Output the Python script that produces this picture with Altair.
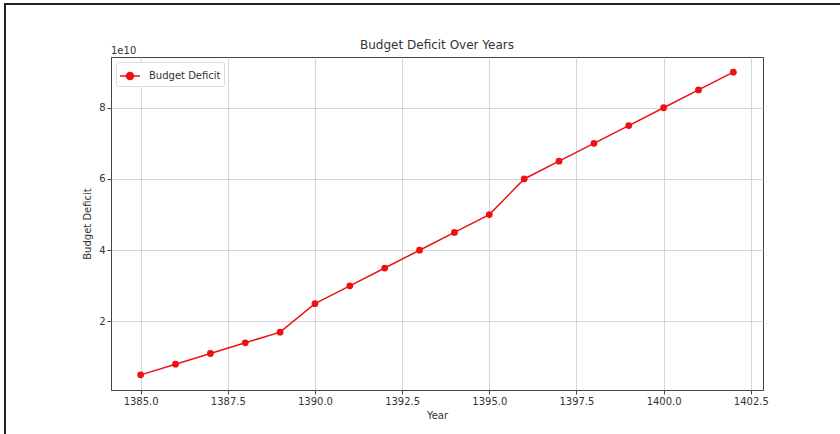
import altair as alt
import pandas as pd

# Budget deficit by (Persian calendar) year
years = [1385, 1386, 1387, 1388, 1389, 1390, 1391, 1392, 1393,
         1394, 1395, 1396, 1397, 1398, 1399, 1400, 1401, 1402]
deficit = [0.5e10, 0.8e10, 1.1e10, 1.4e10, 1.7e10, 2.5e10, 3.0e10, 3.5e10, 4.0e10,
           4.5e10, 5.0e10, 6.0e10, 6.5e10, 7.0e10, 7.5e10, 8.0e10, 8.5e10, 9.0e10]
series_name = "Budget Deficit"
chart_title = "Budget Deficit Over Years"

x_ticks = [1385.0, 1387.5, 1390.0, 1392.5, 1395.0, 1397.5, 1400.0, 1402.5]
y_ticks = [2e10, 4e10, 6e10, 8e10]

df = pd.DataFrame({"Year": years, "Deficit": deficit, "series": series_name})

FONT = "DejaVu Sans"
RED = "#ee1111"
TEXT = "#333333"
W, H = 652, 333

x_enc = alt.X(
    "Year:Q",
    scale=alt.Scale(domain=[1384.15, 1402.85], nice=False, zero=False),
    axis=alt.Axis(
        values=x_ticks, format=".1f", title="Year", grid=True,
        labelFontSize=10, titleFontSize=10, labelColor=TEXT, titleColor=TEXT,
        labelFont=FONT, titleFont=FONT, titleFontWeight="normal",
        tickSize=4, labelPadding=2, titlePadding=4, domain=False,
        tickColor="#444444", gridColor="#cccccc", gridWidth=0.8,
        labelFlush=False,
    ),
)
y_enc = alt.Y(
    "Deficit:Q",
    scale=alt.Scale(domain=[0.075e10, 9.425e10], nice=False, zero=False),
    axis=alt.Axis(
        values=y_ticks, labelExpr="format(datum.value / 1e10, 'd')",
        title="Budget Deficit", grid=True,
        labelFontSize=10, titleFontSize=10, labelColor=TEXT, titleColor=TEXT,
        labelFont=FONT, titleFont=FONT, titleFontWeight="normal",
        tickSize=4, labelPadding=2, titlePadding=6, domain=False,
        tickColor="#444444", gridColor="#cccccc", gridWidth=0.8,
    ),
)

color_enc = alt.Color(
    "series:N",
    scale=alt.Scale(domain=[series_name], range=[RED]),
    title=None,
    legend=alt.Legend(
        orient="none", legendX=5, legendY=5,
        symbolType="M-1,0L1,0M-0.35,0A0.35,0.35 0 1,1 0.35,0A0.35,0.35 0 1,1 -0.35,0",
        symbolSize=400, symbolStrokeWidth=1.5, symbolFillColor=RED, symbolStrokeColor=RED,
        labelFontSize=10, labelFont=FONT, labelColor=TEXT,
        padding=3, strokeColor="#dddddd", fillColor="white", cornerRadius=2,
        labelOffset=8,
    ),
)

base = alt.Chart(df)
line = base.mark_line(strokeWidth=1.5).encode(x=x_enc, y=y_enc, color=color_enc)
points = base.mark_circle(size=46, opacity=1).encode(x=x_enc, y=y_enc, color=color_enc)

# chart title and the scale multiplier shown above the y axis
title_text = alt.Chart(pd.DataFrame({"t": [chart_title]})).mark_text(
    align="center", baseline="bottom", fontSize=12, font=FONT, color=TEXT
).encode(x=alt.value(W / 2), y=alt.value(-5), text="t:N")
offset_text = alt.Chart(pd.DataFrame({"t": ["1e10"]})).mark_text(
    align="left", baseline="bottom", fontSize=10, font=FONT, color=TEXT
).encode(x=alt.value(0), y=alt.value(-1), text="t:N")

# outer frame lines (top and left edges)
frame_top = alt.Chart(pd.DataFrame({"k": [0]})).mark_rule(color="#222222", strokeWidth=2).encode(
    x=alt.value(-107), x2=alt.value(840 - 111), y=alt.value(-53)
)
frame_left = alt.Chart(pd.DataFrame({"k": [0]})).mark_rule(color="#222222", strokeWidth=2).encode(
    x=alt.value(-106), y=alt.value(-54), y2=alt.value(434 - 57)
)

chart = alt.layer(line, points, title_text, offset_text, frame_top, frame_left).properties(
    width=W, height=H,
    autosize=alt.AutoSizeParams(type="none"),
    padding={"left": 111, "top": 57, "right": 77, "bottom": 44},
    background="white",
).configure_view(stroke="#444444", strokeWidth=1)

chart.save("out.html", embed_options={"renderer": "svg", "actions": False})
